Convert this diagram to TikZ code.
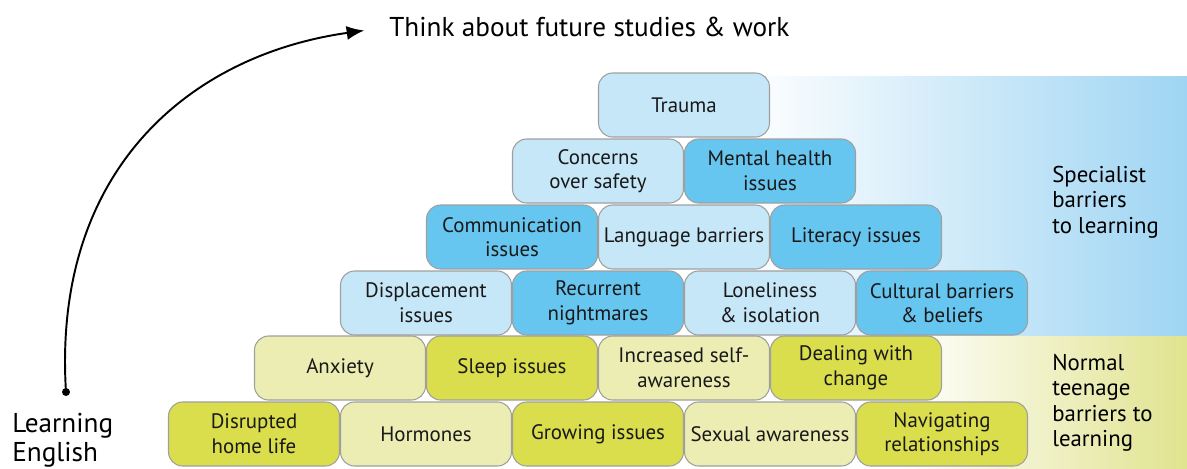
\documentclass[tikz,border=0pt]{standalone}
\usepackage{fontspec}
\setmainfont{PT Sans}
\usetikzlibrary{positioning,arrows.meta}

\definecolor{lblue}{HTML}{C6E7F8}
\definecolor{dblue}{HTML}{67C6F0}
\definecolor{lyell}{HTML}{EBEDB3}
\definecolor{dyell}{HTML}{DADD4C}
\definecolor{bandblue}{HTML}{9FD5F3}
\definecolor{bandyell}{HTML}{E0E38E}

\tikzset{
  brick/.style={draw=gray!75, line width=0.6pt, rounded corners=8pt,
    minimum width=3.42cm, minimum height=1.28cm, inner sep=1pt,
    align=center, text=black!90, font=\fontsize{11.9}{14}\selectfont},
  paleblue/.style={brick, fill=lblue},
  deepblue/.style={brick, fill=dblue},
  paleyell/.style={brick, fill=lyell},
  deepyell/.style={brick, fill=dyell},
  sidelabel/.style={anchor=west, align=left, inner sep=0pt, font=\fontsize{13}{14.5}\selectfont}
}

\begin{document}
\begin{tikzpicture}[x=0.02cm,y=-0.02cm]

\useasboundingbox (0,0) rectangle (1187,468);

% Background bands
\fill[left color=white, right color=bandblue] (740,76) rectangle (1187,336);
\fill[left color=white, right color=bandyell] (900,336) rectangle (1187,468);

% Specialist barriers
\node[paleblue] (trauma) at (684,105) {Trauma};

\node[paleblue] (safety) at (598,171) {Concerns\\over safety};
\node[deepblue] (mental) at (770,171) {Mental health\\issues};

\node[deepblue] (commun) at (512,237) {Communication\\issues};
\node[paleblue] (language) at (684,237) {Language barriers};
\node[deepblue] (literacy) at (856,237) {Literacy issues};

\node[paleblue] (displace) at (426,303) {Displacement\\issues};
\node[deepblue] (nightmare) at (598,303) {Recurrent\\nightmares};
\node[paleblue] (lonely) at (770,303) {Loneliness\\\& isolation};
\node[deepblue] (cultural) at (942,303) {Cultural barriers\\\& beliefs};

% Normal teenage barriers
\node[paleyell] (anxiety) at (340,368) {Anxiety};
\node[deepyell] (sleep) at (512,368) {Sleep issues};
\node[paleyell] (selfaware) at (684,368) {Increased self-\\awareness};
\node[deepyell] (change) at (856,368) {Dealing with\\change};

\node[deepyell] (homelife) at (254,434) {Disrupted\\home life};
\node[paleyell] (hormones) at (426,434) {Hormones};
\node[deepyell] (growing) at (598,434) {Growing issues};
\node[paleyell] (sexual) at (770,434) {Sexual awareness};
\node[deepyell] (relations) at (942,434) {Navigating\\relationships};

% Side labels
\node[sidelabel] (special) at (1052,202) {Specialist\\barriers\\to learning};
\node[sidelabel] (normal) at (1052,403) {Normal\\teenage\\barriers to\\learning};

% Learning path
\coordinate (start) at (66,392);
\node[anchor=west, inner sep=0pt, font=\fontsize{15.5}{17}\selectfont] (future) at (389,27) {Think about future studies \& work};
\node[anchor=north west, align=left, inner sep=0pt, font=\fontsize{15.5}{16.5}\selectfont] (english) at (12,413) {Learning\\English};

\fill (start) circle (4);
\draw[line width=1.1pt, -{Latex[length=10pt,width=8pt]}, shorten >=0.5cm]
  (start) .. controls (52,170) and (190,55) .. (future.west);

\end{tikzpicture}
\end{document}
